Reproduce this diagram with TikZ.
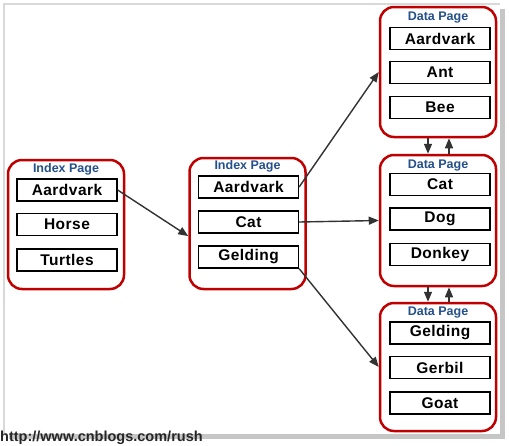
\documentclass[tikz,border=0pt]{standalone}
\usepackage{fontspec}
\setmainfont{Liberation Sans}
\usetikzlibrary{arrows.meta}

\definecolor{pagered}{RGB}{192,0,0}
\definecolor{titleblue}{RGB}{36,80,140}
\definecolor{linkgray}{RGB}{50,50,50}

\tikzset{
  page/.style={draw=pagered, line width=2.5pt, rounded corners=14pt, minimum width=116pt, inner sep=0pt},
  entry/.style={draw=black, line width=1.3pt, fill=white, minimum width=100pt, minimum height=22pt, inner sep=0pt,
    font=\fontsize{15.5}{18}\selectfont\bfseries\addfontfeatures{LetterSpace=3}},
  pagetitle/.style={text=titleblue, inner sep=0pt, font=\fontsize{12.5}{14}\selectfont\bfseries},
  link/.style={draw=linkgray, line width=1.4pt, -{Triangle[length=10pt,width=8pt]}}
}

\begin{document}
\begin{tikzpicture}[x=1pt, y=-1pt]
\useasboundingbox (0,0) rectangle (509,445);

% frame of the screenshot
\fill[white] (5,5) rectangle (500,434);
\draw[gray!30, line width=2.5pt] (4,434) -- (4,4) -- (500,4);
\draw[gray!45, line width=5pt] (502,9) -- (502,436) -- (9,436);

% index page (root)
\node[page, minimum height=129pt] (rpage) at (66,224.5) {};
\node[pagetitle] (rtitle) at (66,169) {Index Page};
\node[entry] (raard) at (67,190) {Aardvark};
\node[entry] (rhorse) at (67,224.5) {Horse};
\node[entry] (rturt) at (67,260) {Turtles};

% index page (middle level)
\node[page, minimum height=131pt] (mpage) at (247.5,223.5) {};
\node[pagetitle] (mtitle) at (247.5,166) {Index Page};
\node[entry] (maard) at (248.5,187) {Aardvark};
\node[entry] (mcat) at (248.5,222) {Cat};
\node[entry] (mgeld) at (248.5,257) {Gelding};

% data pages
\node[page, minimum height=130pt] (apage) at (438,72) {};
\node[pagetitle] (atitle) at (438,18) {Data Page};
\node[entry] (aaard) at (440,38.5) {Aardvark};
\node[entry] (aant) at (440,72.5) {Ant};
\node[entry] (abee) at (440,107.5) {Bee};

\node[page, minimum height=131pt] (cpage) at (438,220.5) {};
\node[pagetitle] (ctitle) at (438,166) {Data Page};
\node[entry] (ccat) at (440,184.5) {Cat};
\node[entry] (cdog) at (440,219) {Dog};
\node[entry] (cdonk) at (440,254.5) {Donkey};

\node[page, minimum height=128pt] (gpage) at (438,367) {};
\node[pagetitle] (gtitle) at (438,313) {Data Page};
\node[entry] (ggeld) at (440,333) {Gelding};
\node[entry] (ggerb) at (440,367.5) {Gerbil};
\node[entry] (ggoat) at (440,403) {Goat};

% links
\draw[link] (raard.east) -- (mpage.192);
\draw[link] (maard.east) -- (apage.west);
\draw[link] (mcat.east) -- (cpage.west);
\draw[link] (mgeld.south east) -- (gpage.west);

\draw[link] ([xshift=-10pt]apage.south) -- ([xshift=-10pt]cpage.north);
\draw[link] ([xshift=11pt]cpage.north) -- ([xshift=11pt]apage.south);
\draw[link] ([xshift=-10pt]cpage.south) -- ([xshift=-10pt]gpage.north);
\draw[link] ([xshift=11pt]gpage.north) -- ([xshift=11pt]cpage.south);

\node[anchor=base west, inner sep=0pt, text=black!85, font=\fontsize{14.5}{16}\selectfont\bfseries] (url) at (0,441) {http://www.cnblogs.com/rush};
\end{tikzpicture}
\end{document}
